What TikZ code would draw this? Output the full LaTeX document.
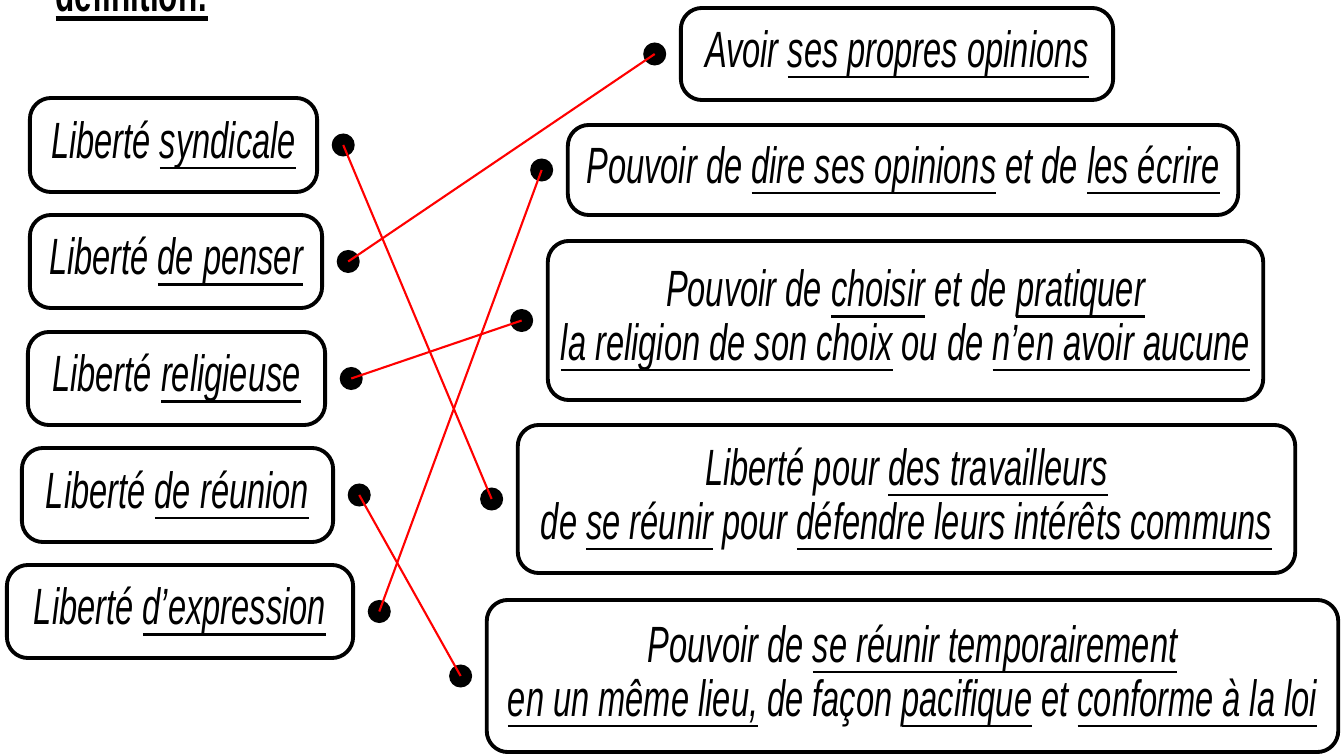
\documentclass[tikz,border=0pt]{standalone}
\usepackage{fontspec}
\setmainfont{Liberation Sans}[FakeStretch=0.64]
\usetikzlibrary{positioning}

% underline at a fixed depth
\newcommand{\sous}[1]{\setbox0\hbox{#1}\rlap{\rule[-3pt]{\wd0}{0.6pt}}\box0\relax}
\newcommand{\sousgras}[1]{\setbox0\hbox{#1}\rlap{\rule[-2.6pt]{\wd0}{1.4pt}}\box0\relax}

\tikzset{
  carte/.style={draw, line width=1.1pt, rounded corners=6pt, align=center,
    inner sep=0pt, font=\fontsize{14.5}{15.2}\selectfont\itshape},
  point/.style={circle, fill=black, inner sep=0pt, minimum size=0.23cm},
  fil/.style={red, line width=0.6pt}
}

\begin{document}
\begin{tikzpicture}[x=0.01cm, y=-0.01cm]
    \useasboundingbox (0,0) rectangle (1342,755);
    % Title (cut at the top)
    \node[anchor=base west, inner sep=0pt, font=\fontsize{14}{16}\selectfont\bfseries] (titre) at (55,12)
      {\sousgras{définition:}};
    % Left column: the freedoms
    \node[carte, minimum width=2.87cm, minimum height=0.94cm] (lib1) at (173.5,145) {Liberté \sous{syndicale}};
    \node[carte, minimum width=2.92cm, minimum height=0.93cm] (lib2) at (176,261.5) {Liberté \sous{de penser}};
    \node[carte, minimum width=2.97cm, minimum height=0.93cm] (lib3) at (176.5,378.5) {Liberté \sous{religieuse}};
    \node[carte, minimum width=3.11cm, minimum height=0.94cm] (lib4) at (177.5,495) {Liberté \sous{de réunion}};
    \node[carte, minimum width=3.46cm, minimum height=0.93cm] (lib5) at (180,611.5) {Liberté \sous{d’expression}};
    % Right column: the definitions
    \node[carte, minimum width=4.32cm, minimum height=0.92cm] (defA) at (897,54) {Avoir \sous{ses propres opinions}};
    \node[carte, minimum width=6.70cm, minimum height=0.90cm] (defB) at (903,170) {Pouvoir de \sous{dire ses opinions} et de \sous{les écrire}};
    \node[carte, minimum width=7.15cm, minimum height=1.59cm] (defC) at (905.5,320.5)
      {Pouvoir de \sous{choisir} et de \sous{pratiquer}\\ \sous{la religion de son choix} ou de \sous{n’en avoir aucune}};
    \node[carte, minimum width=7.77cm, minimum height=1.48cm] (defD) at (906.5,499)
      {Liberté pour \sous{des travailleurs}\\ de \sous{se réunir} pour \sous{défendre leurs intérêts communs}};
    \node[carte, minimum width=8.51cm, minimum height=1.52cm] (defE) at (912.5,676)
      {Pouvoir de \sous{se réunir temporairement}\\ \sous{en un même lieu,} de façon \sous{pacifique} et \sous{conforme à la loi}};
    % Dots
    \node[point, right=0.12cm of lib1] (p1) {};
    \node[point, right=0.12cm of lib2] (p2) {};
    \node[point, right=0.12cm of lib3] (p3) {};
    \node[point, right=0.12cm of lib4] (p4) {};
    \node[point, right=0.12cm of lib5] (p5) {};
    \node[point, left=0.12cm of defA] (pA) {};
    \node[point, left=0.12cm of defB] (pB) {};
    \node[point, left=0.12cm of defC] (pC) {};
    \node[point, left=0.12cm of defD] (pD) {};
    \node[point, left=0.12cm of defE] (pE) {};
    % Red matching lines
    \draw[fil] (p1.center) -- (pD.center);
    \draw[fil] (p2.center) -- (pA.center);
    \draw[fil] (p3.center) -- (pC.center);
    \draw[fil] (p4.center) -- (pE.center);
    \draw[fil] (p5.center) -- (pB.center);
\end{tikzpicture}
\end{document}
